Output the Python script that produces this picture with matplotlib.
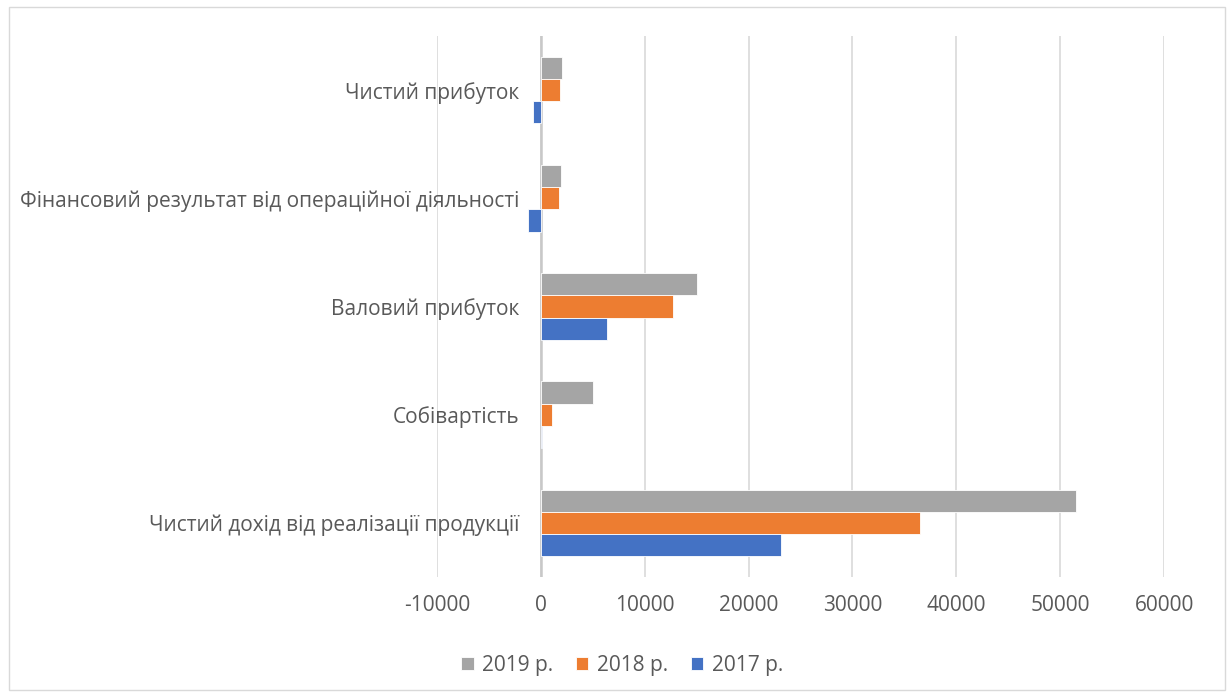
import numpy as np
import matplotlib.pyplot as plt
from matplotlib.patches import Rectangle

plt.rcParams['font.family'] = ['Open Sans', 'DejaVu Sans']

# categories from bottom to top
categories = [
    'Чистий дохід від реалізації продукції',
    'Собівартість',
    'Валовий прибуток',
    'Фінансовий результат від операційної діяльності',
    'Чистий прибуток',
]
years = ['2019 р.', '2018 р.', '2017 р.']
v2019 = [51500, 5000, 15000, 1950, 2050]
v2018 = [36500, 1100, 12700, 1750, 1850]
v2017 = [23100, 100, 6400, -1250, -750]
colors = ['#A5A5A5', '#ED7D31', '#4472C4']
ticks = list(range(-10000, 60001, 10000))

fig = plt.figure(figsize=(12.3, 6.95), dpi=100)
ax = fig.add_axes([0.3553, 0.1698, 0.5911, 0.7784])

y = np.arange(len(categories))
h = 0.205
series = [v2019, v2018, v2017]
for i, (vals, c, lab) in enumerate(zip(series, colors, years)):
    ax.barh(y + (1 - i) * h, vals, height=h, color=c, label=lab,
            edgecolor='white', linewidth=0.6, zorder=3)

ax.set_xlim(-10000, 60000)
ax.set_ylim(-0.5, len(categories) - 0.5)
ax.set_xticks(ticks)
ax.set_xticklabels([str(t) for t in ticks], fontsize=15, color='#595959')
ax.set_yticks(y)
# category labels sit next to the zero line, not the left edge
ax.set_yticklabels(categories, fontsize=15, color='#595959')
ax.tick_params(axis='both', length=0)
ax.tick_params(axis='x', pad=13)
ax.tick_params(axis='y', pad=-59)
ax.xaxis.grid(True, color='#D9D9D9', linewidth=1.2, zorder=0)
ax.axvline(0, color='#C8C8C8', linewidth=1.8, zorder=2)
for s in ax.spines.values():
    s.set_visible(False)

handles, labels = ax.get_legend_handles_labels()
fig.legend(handles, labels, loc='center', bbox_to_anchor=(0.5057, 0.043), ncol=3,
           frameon=False, fontsize=15, handlelength=0.6, handleheight=0.6,
           handletextpad=0.4, columnspacing=1.1, labelcolor='#595959')

fig.patches.append(Rectangle((0.0073, 0.007), 0.9886, 0.983, transform=fig.transFigure,
                             fill=False, edgecolor='#D9D9D9', linewidth=1))

fig.savefig('out.png', dpi=100)
